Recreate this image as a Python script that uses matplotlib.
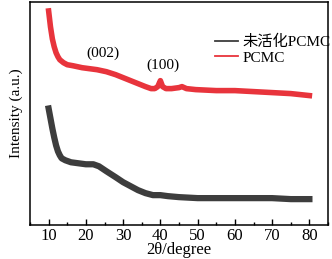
import matplotlib
matplotlib.use("Agg")
import matplotlib.pyplot as plt
from matplotlib.ticker import MultipleLocator

plt.rcParams['font.family'] = ['Liberation Serif', 'Noto Sans CJK SC']
plt.rcParams['mathtext.fontset'] = 'stix'

# Data (arbitrary intensity units)
red_x = [10, 10.5, 11, 11.5, 12, 12.5, 13, 14, 15, 16.5, 19, 21, 23, 25.5, 28, 30, 32, 34,
         36, 37.5, 38.5, 39.3, 40, 40.6, 41.5, 43, 45, 45.8, 47, 49.5, 55, 60, 65, 70, 75, 80]
red_px = [10, 26, 38, 46, 52, 56, 59, 62, 64, 65, 67, 68, 69, 71, 74, 77, 80, 83,
          86, 88, 88, 86, 80, 86, 88, 88, 87, 86, 88, 89, 90, 90, 91, 92, 93, 95]
blk_x = [10, 10.5, 11, 11.5, 12, 12.5, 13, 13.5, 14.5, 16, 18, 20, 22, 23.5, 25.5, 28, 30,
         32, 34, 36, 38, 40, 42, 45, 50, 55, 60, 65, 70, 75, 80]
blk_px = [108, 118, 128, 137, 145, 151, 155, 158, 160, 162, 163, 164, 164, 166, 171, 177, 182,
          186, 190, 193, 195, 195, 196, 197, 198, 198, 198, 198, 198, 199, 199]
red_y = [225 - v for v in red_px]
blk_y = [225 - v for v in blk_px]

labels = ['未活化PCMC', 'PCMC']
xticks = [10, 20, 30, 40, 50, 60, 70, 80]
peak_labels = ['(002)', '(100)']
peak_pos = [(24.6, 225 - 52), (40.6, 225 - 65)]

fig = plt.figure(figsize=(3.32, 2.59), dpi=100)
ax = fig.add_axes([30/332, 1 - 225/259, 298/332, 223/259])

ax.plot(blk_x, blk_y, color='#3d3d3d', lw=4.5, solid_joinstyle='round', label=labels[0])
ax.plot(red_x, red_y, color='#e8343c', lw=4.0, solid_joinstyle='round', label=labels[1])

ax.set_xlim(5, 85)
ax.set_ylim(0, 224)
ax.set_xticks(xticks)
ax.xaxis.set_minor_locator(MultipleLocator(5))
ax.set_yticks([])
ax.tick_params(axis='x', which='major', direction='in', length=4, width=1, labelsize=12, pad=2)
ax.tick_params(axis='x', which='minor', direction='in', length=2, width=1)
for s in ax.spines.values():
    s.set_linewidth(1.1)

ax.set_xlabel('2θ/degree', fontsize=12, labelpad=-1)
ax.set_ylabel('Intensity (a.u.)', fontsize=11, labelpad=5)

for t, (px, py) in zip(peak_labels, peak_pos):
    ax.text(px, py, t, fontsize=11, ha='center', va='center')

leg = ax.legend(loc='upper left', bbox_to_anchor=((215 - 30) / 298, 1 - 33 / 223),
                frameon=False, fontsize=11,
                handlelength=1.5, handletextpad=0.3, labelspacing=0.1, borderaxespad=0,
                borderpad=0)
for h in leg.get_lines():
    h.set_linewidth(1.3)

fig.savefig('out.png', dpi=100)
